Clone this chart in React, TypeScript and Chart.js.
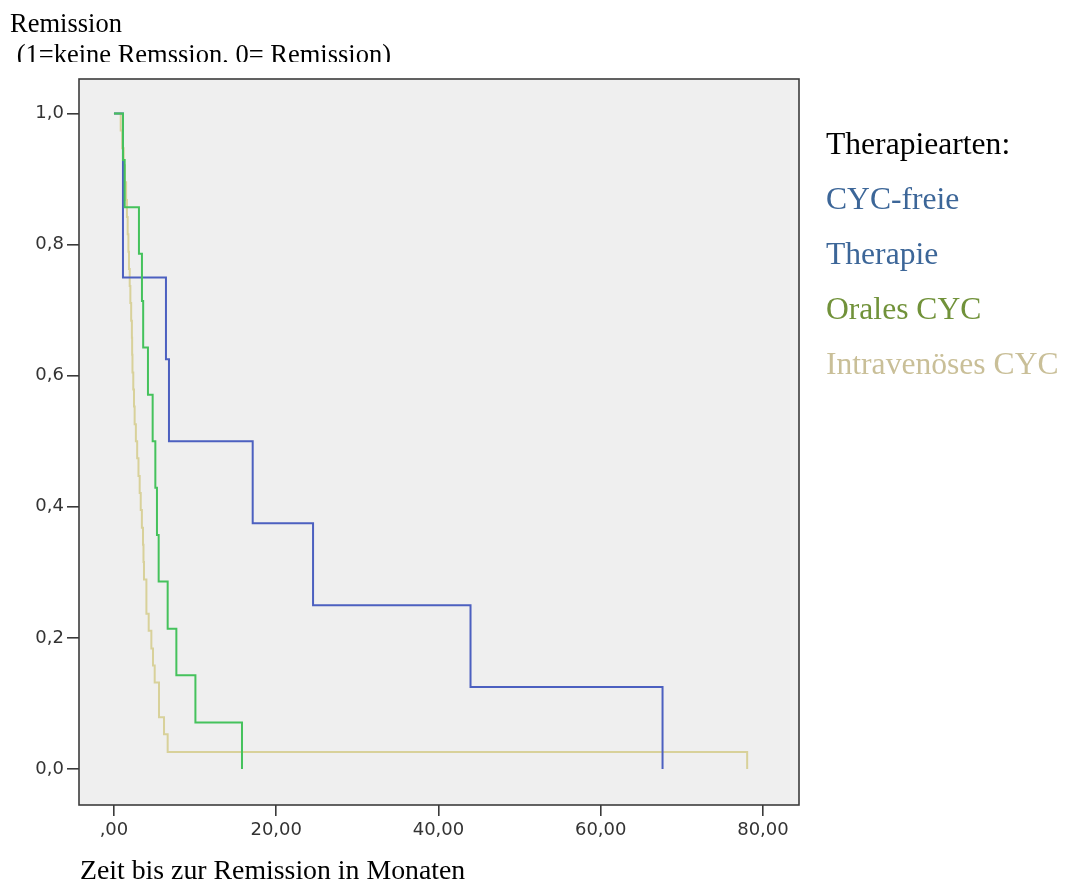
import React, { useEffect, useRef } from "react";
import { Chart, registerables } from "chart.js";

Chart.register(...registerables);

// ---- Data ----
const xTicks = [0, 20, 40, 60, 80];
const yTicks = [0, 0.2, 0.4, 0.6, 0.8, 1.0];

// CYC-freie Therapie (n = 8)
const freeTimes = [0, 1.11, 6.41, 6.78, 17.1, 24.54, 43.95, 67.62];
const freeSurv = [1, 0.75, 0.625, 0.5, 0.375, 0.25, 0.125, 0];

// Orales CYC (n = 14)
const oralTimes = [0, 1.11, 1.32, 3.08, 3.45, 3.6, 4.19, 4.77, 5.1, 5.3, 5.51, 6.62, 7.69, 10.04, 15.78];
const oralSurv = [1, 0.929, 0.857, 0.786, 0.714, 0.643, 0.571, 0.5, 0.429, 0.357, 0.286, 0.214, 0.143, 0.071, 0];

// Intravenöses CYC (n = 38)
const ivTimes = [
  0, 0.83, 1.01, 1.2, 1.36, 1.5, 1.6, 1.69, 1.78, 1.85, 1.94, 2.02, 2.12, 2.21, 2.24, 2.28,
  2.38, 2.47, 2.55, 2.7, 2.86, 3.02, 3.17, 3.3, 3.44, 3.58, 3.64, 3.7, 4.0, 4.28, 4.61, 4.81,
  5.02, 5.55, 6.17, 6.62, 78.05,
];
const ivSurv = [
  1, 0.974, 0.947, 0.921, 0.895, 0.868, 0.842, 0.816, 0.789, 0.763, 0.737, 0.711, 0.684, 0.658,
  0.632, 0.605, 0.579, 0.553, 0.526, 0.5, 0.474, 0.447, 0.421, 0.395, 0.368, 0.342, 0.316, 0.289,
  0.237, 0.211, 0.184, 0.158, 0.132, 0.079, 0.053, 0.026, 0,
];

const seriesLabels = ["CYC-freie Therapie", "Orales CYC", "Intravenöses CYC"];

// ---- Layout / style constants ----
const X_MIN = -4.31;
const X_MAX = 84.44;
const Y_MIN = -0.0549;
const Y_MAX = 1.0527;

const toPoints = (xs: number[], ys: number[]) => xs.map((x, i) => ({ x, y: ys[i] }));

const fmtX = (v: number) => (v === 0 ? ",00" : v.toFixed(2).replace(".", ","));
const fmtY = (v: number) => v.toFixed(1).replace(".", ",");

const framePlugin = {
  id: "spssFrame",
  beforeDraw(chart: any) {
    const { ctx, chartArea } = chart;
    ctx.save();
    ctx.fillStyle = "#efefef";
    ctx.fillRect(chartArea.left, chartArea.top, chartArea.right - chartArea.left, chartArea.bottom - chartArea.top);
    ctx.restore();
  },
  afterDatasetsDraw(chart: any) {
    const { ctx, chartArea } = chart;
    ctx.save();
    ctx.strokeStyle = "#3c3c3c";
    ctx.lineWidth = 1.6;
    ctx.strokeRect(chartArea.left, chartArea.top, chartArea.right - chartArea.left, chartArea.bottom - chartArea.top);
    ctx.restore();
  },
};

const tickFont = { family: "'DejaVu Sans', sans-serif", size: 18 };

export default function App() {
  const canvasRef = useRef<HTMLCanvasElement | null>(null);

  useEffect(() => {
    if (!canvasRef.current) return;
    const chart = new Chart(canvasRef.current, {
      type: "line",
      data: {
        datasets: [
          {
            label: seriesLabels[1],
            data: toPoints(oralTimes, oralSurv),
            borderColor: "#45c25c",
            borderWidth: 2,
            stepped: "before",
            pointRadius: 0,
            fill: false,
          },
          {
            label: seriesLabels[0],
            data: toPoints(freeTimes, freeSurv),
            borderColor: "#4c60c0",
            borderWidth: 2,
            stepped: "before",
            pointRadius: 0,
            fill: false,
          },
          {
            label: seriesLabels[2],
            data: toPoints(ivTimes, ivSurv),
            borderColor: "#d8d19a",
            borderWidth: 2,
            stepped: "before",
            pointRadius: 0,
            fill: false,
          },
        ],
      },
      options: {
        animation: false,
        responsive: false,
        devicePixelRatio: 1,
        layout: { padding: { left: 0, top: 79, right: 267, bottom: 40 } },
        plugins: { legend: { display: false }, tooltip: { enabled: false }, title: { display: false } },
        scales: {
          x: {
            type: "linear",
            min: X_MIN,
            max: X_MAX,
            afterBuildTicks: (s: any) => {
              s.ticks = xTicks.map((v) => ({ value: v }));
            },
            afterFit: (s: any) => {
              s.height = 39;
            },
            border: { display: false },
            grid: { drawOnChartArea: false, drawTicks: true, tickLength: 11, color: "#3a3a3a", lineWidth: 1.6 },
            ticks: {
              callback: (v: any) => fmtX(Number(v)),
              font: tickFont,
              color: "#333333",
              padding: 4,
              maxRotation: 0,
              autoSkip: false,
            },
          },
          y: {
            type: "linear",
            min: Y_MIN,
            max: Y_MAX,
            afterBuildTicks: (s: any) => {
              s.ticks = yTicks.map((v) => ({ value: v }));
            },
            afterFit: (s: any) => {
              s.width = 79;
            },
            border: { display: false },
            grid: { drawOnChartArea: false, drawTicks: true, tickLength: 12, color: "#3a3a3a", lineWidth: 1.6 },
            ticks: {
              callback: (v: any) => fmtY(Number(v)),
              font: tickFont,
              color: "#333333",
              padding: 3,
              autoSkip: false,
            },
          },
        },
      },
      plugins: [framePlugin],
    } as any);
    return () => chart.destroy();
  }, []);

  const serif = "'Liberation Serif', 'Times New Roman', serif";

  return (
    <div style={{ position: "absolute", left: 0, top: 0, width: 1066, height: 884, background: "#ffffff", overflow: "hidden" }}>
      <canvas ref={canvasRef} width={1066} height={884} style={{ position: "absolute", left: 0, top: 0, width: 1066, height: 884 }} />
      <div
        style={{
          position: "absolute",
          left: 10,
          top: 7.5,
          height: 54,
          overflow: "hidden",
          fontFamily: serif,
          fontSize: 26.5,
          lineHeight: "31px",
          color: "#000",
          whiteSpace: "pre",
        }}
      >
        <div>Remission</div>
        <div> (1=keine Remssion, 0= Remission)</div>
      </div>
      <div style={{ position: "absolute", left: 826, top: 116, fontFamily: serif, fontSize: 31.6, lineHeight: "55px", whiteSpace: "pre" }}>
        <div style={{ color: "#000000" }}>Therapiearten:</div>
        <div style={{ color: "#3c6698" }}>CYC-freie</div>
        <div style={{ color: "#3c6698" }}>Therapie</div>
        <div style={{ color: "#71923a" }}>Orales CYC</div>
        <div style={{ color: "#c9bf98" }}>Intravenöses CYC</div>
      </div>
      <div
        style={{
          position: "absolute",
          left: 80,
          top: 854,
          fontFamily: serif,
          fontSize: 27.8,
          lineHeight: "32px",
          color: "#000",
          whiteSpace: "pre",
        }}
      >
        Zeit bis zur Remission in Monaten
      </div>
    </div>
  );
}
